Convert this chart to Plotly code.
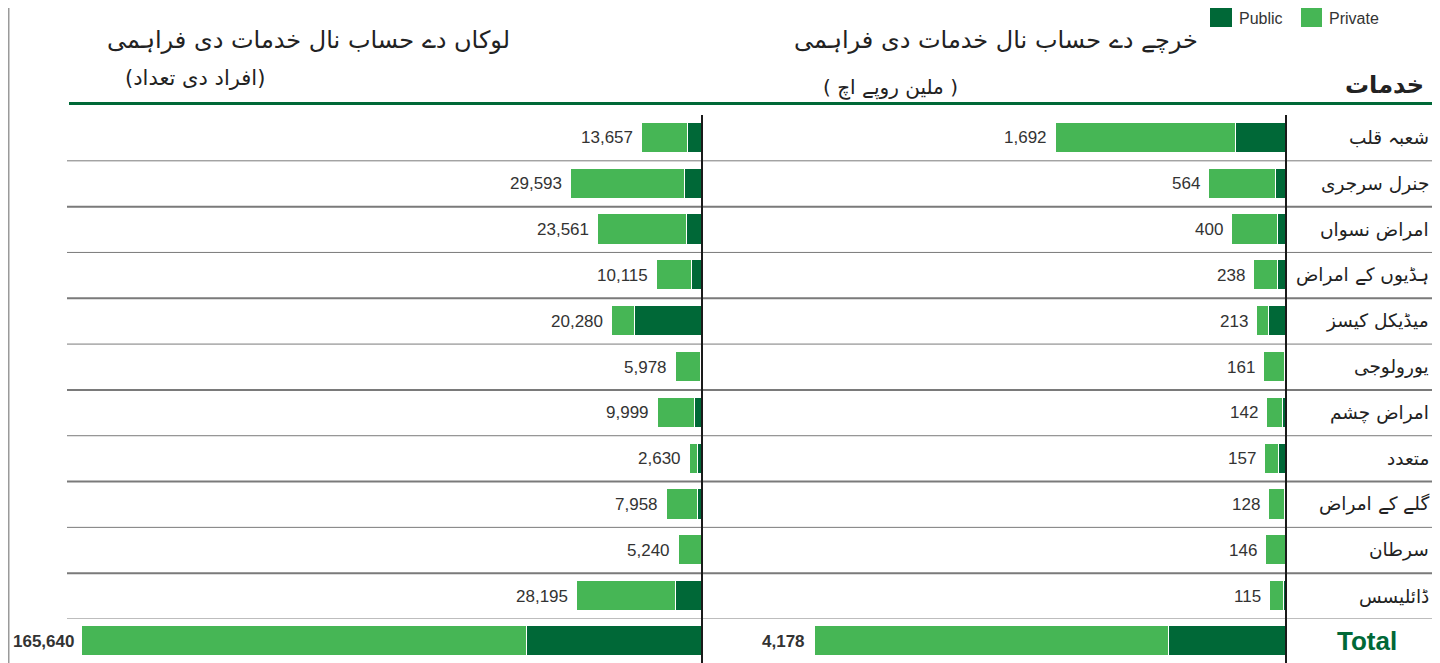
import plotly.graph_objects as go

# ---------------- data ----------------
categories = ["شعبہ قلب", "جنرل سرجری", "امراض نسواں", "ہڈیوں کے امراض", "میڈیکل کیسز",
              "یورولوجی", "امراض چشم", "متعدد", "گلے کے امراض", "سرطان", "ڈائلیسس"]

people_public = [3200, 3770, 3390, 2330, 15200, 150, 1580, 900, 840, 60, 5940]
people_private = [10457, 25823, 20171, 7785, 5080, 5828, 8419, 1730, 7118, 5180, 22255]
people_totals = [13657, 29593, 23561, 10115, 20280, 5978, 9999, 2630, 7958, 5240, 28195]

spend_public = [365, 71, 59, 59, 123, 5, 20, 54, 8, 0, 15]
spend_private = [1327, 493, 341, 179, 90, 156, 122, 103, 120, 146, 100]
spend_totals = [1692, 564, 400, 238, 213, 161, 142, 157, 128, 146, 115]

total_label = ["Total"]
people_total_public = [46750]
people_total_private = [118890]
people_grand_total = [165640]
spend_total_public = [1038]
spend_total_private = [3140]
spend_grand_total = [4178]

series_names = ["Public", "Private"]

title_people = "لوکاں دے حساب نال خدمات دی فراہمی"
subtitle_people = "(افراد دی تعداد)"
title_spend = "خرچے دے حساب نال خدمات دی فراہمی"
subtitle_spend = "( ملین روپے اچ )"
header_services = "خدمات"

# ---------------- style ----------------
# the page body has an 8px margin, so the figure starts at (8, 8) of the window
OFF = 8
W, H = 1440 - OFF, 663 - OFF
C_PUB = "#006837"
C_PRI = "#46b655"
URDU = "DejaVu Sans"
LATIN = "Liberation Sans, Arial, sans-serif"


def px(x):
    return (x - OFF) / W


def py(y):
    return 1 - (y - OFF) / H


fig = go.Figure()

bar_common = dict(orientation="h", width=0.66, marker_line=dict(color="white", width=1),
                  hoverinfo="x+y", showlegend=False)

# main rows
fig.add_bar(x=people_public, y=categories, xaxis="x", yaxis="y", marker_color=C_PUB,
            name=series_names[0], **bar_common)
fig.add_bar(x=people_private, y=categories, xaxis="x", yaxis="y", marker_color=C_PRI,
            name=series_names[1], **bar_common)
fig.add_bar(x=spend_public, y=categories, xaxis="x2", yaxis="y2", marker_color=C_PUB,
            name=series_names[0], **bar_common)
fig.add_bar(x=spend_private, y=categories, xaxis="x2", yaxis="y2", marker_color=C_PRI,
            name=series_names[1], **bar_common)
# total row
fig.add_bar(x=people_total_public, y=total_label, xaxis="x3", yaxis="y3", marker_color=C_PUB,
            name=series_names[0], **bar_common)
fig.add_bar(x=people_total_private, y=total_label, xaxis="x3", yaxis="y3", marker_color=C_PRI,
            name=series_names[1], **bar_common)
fig.add_bar(x=spend_total_public, y=total_label, xaxis="x4", yaxis="y4", marker_color=C_PUB,
            name=series_names[0], **bar_common)
fig.add_bar(x=spend_total_private, y=total_label, xaxis="x4", yaxis="y4", marker_color=C_PRI,
            name=series_names[1], **bar_common)

main_dom = [1 - (619 - OFF) / H, 1 - (115 - OFF) / H]
tot_dom = [0, 1 - (619 - OFF) / H]
left_dom = [px(67), px(702)]
right_dom = [px(708), px(1286)]

hidden = dict(visible=False, showgrid=False, zeroline=False, fixedrange=True)

fig.update_layout(
    width=W, height=H,
    margin=dict(l=0, r=0, t=0, b=0),
    paper_bgcolor="white", plot_bgcolor="rgba(0,0,0,0)",
    barmode="stack", bargap=0,
    showlegend=False,
    xaxis=dict(domain=left_dom, range=[143340, 0], anchor="y", **hidden),
    yaxis=dict(domain=main_dom, range=[10.5, -0.5], anchor="x", **hidden),
    xaxis2=dict(domain=right_dom, range=[4247, 0], anchor="y2", **hidden),
    yaxis2=dict(domain=main_dom, range=[10.5, -0.5], anchor="x2", **hidden),
    xaxis3=dict(domain=left_dom, range=[169650, 0], anchor="y3", **hidden),
    yaxis3=dict(domain=tot_dom, range=[0.5, -0.5], anchor="x3", **hidden),
    xaxis4=dict(domain=right_dom, range=[5127, 0], anchor="y4", **hidden),
    yaxis4=dict(domain=tot_dom, range=[0.5, -0.5], anchor="x4", **hidden),
)

shapes = []
# left grey border
shapes.append(dict(type="line", xref="paper", yref="paper", x0=px(8.5), x1=px(8.5), y0=0, y1=1,
                   line=dict(color="#9a9a9a", width=2)))
# green header rule
shapes.append(dict(type="line", xref="paper", yref="paper", x0=px(69), x1=px(1435),
                   y0=py(103.5), y1=py(103.5), line=dict(color=C_PUB, width=3)))
# row separators
for i in range(len(categories)):
    shapes.append(dict(type="line", xref="paper", yref="y", x0=px(67), x1=px(1435),
                       y0=i + 0.5, y1=i + 0.5,
                       line=dict(color="#7a7a7a", width=2 if i % 2 else 1)))
# vertical baselines
for xv in (702, 1286):
    shapes.append(dict(type="line", xref="paper", yref="paper", x0=px(xv), x1=px(xv),
                       y0=0, y1=py(115), line=dict(color="#1a1a1a", width=2)))
# manual legend swatches
shapes.append(dict(type="rect", xref="paper", yref="paper", x0=px(1210), x1=px(1232),
                   y0=py(27), y1=py(8), fillcolor=C_PUB, line=dict(width=0)))
shapes.append(dict(type="rect", xref="paper", yref="paper", x0=px(1301), x1=px(1322),
                   y0=py(27), y1=py(8), fillcolor=C_PRI, line=dict(width=0)))

ann = []
# value labels
for c, t in zip(categories, people_totals):
    ann.append(dict(x=t, y=c, xref="x", yref="y", text=f"{t:,}", showarrow=False,
                    xanchor="right", xshift=-7, font=dict(family=LATIN, size=17, color="#333")))
for c, t in zip(categories, spend_totals):
    ann.append(dict(x=t, y=c, xref="x2", yref="y2", text=f"{t:,}", showarrow=False,
                    xanchor="right", xshift=-7, font=dict(family=LATIN, size=17, color="#333")))
ann.append(dict(x=people_grand_total[0], y=total_label[0], xref="x3", yref="y3",
                text=f"<b>{people_grand_total[0]:,}</b>", showarrow=False, xanchor="right",
                xshift=-6, font=dict(family=LATIN, size=17, color="#333")))
ann.append(dict(x=spend_grand_total[0], y=total_label[0], xref="x4", yref="y4",
                text=f"<b>{spend_grand_total[0]:,}</b>", showarrow=False, xanchor="right",
                xshift=-8, font=dict(family=LATIN, size=17, color="#333")))
# category labels
for c in categories:
    ann.append(dict(x=px(1431), y=c, xref="paper", yref="y2", text=c, showarrow=False,
                    xanchor="right", font=dict(family=URDU, size=18.5, color="#222")))
ann.append(dict(x=px(1367), y=total_label[0], xref="paper", yref="y4",
                text=f"<b>{total_label[0]}</b>", showarrow=False, xanchor="center",
                font=dict(family=LATIN, size=26, color=C_PUB)))
# headings
ann.append(dict(x=px(512), y=py(40), xref="paper", yref="paper", text=title_people,
                showarrow=False, xanchor="right", yanchor="middle",
                font=dict(family=URDU, size=24, color="#222")))
ann.append(dict(x=px(267), y=py(78), xref="paper", yref="paper", text=subtitle_people,
                showarrow=False, xanchor="right", yanchor="middle",
                font=dict(family=URDU, size=21, color="#222")))
ann.append(dict(x=px(1200), y=py(40), xref="paper", yref="paper", text=title_spend,
                showarrow=False, xanchor="right", yanchor="middle",
                font=dict(family=URDU, size=24, color="#222")))
ann.append(dict(x=px(960), y=py(87), xref="paper", yref="paper", text=subtitle_spend,
                showarrow=False, xanchor="right", yanchor="middle",
                font=dict(family=URDU, size=20, color="#222")))
ann.append(dict(x=px(1426), y=py(85), xref="paper", yref="paper", text=f"<b>{header_services}</b>",
                showarrow=False, xanchor="right", yanchor="middle",
                font=dict(family=URDU, size=24, color="#222")))
# legend texts
ann.append(dict(x=px(1237), y=py(18), xref="paper", yref="paper", text=series_names[0],
                showarrow=False, xanchor="left", yanchor="middle",
                font=dict(family=LATIN, size=16, color="#333")))
ann.append(dict(x=px(1327), y=py(18), xref="paper", yref="paper", text=series_names[1],
                showarrow=False, xanchor="left", yanchor="middle",
                font=dict(family=LATIN, size=16, color="#333")))

fig.update_layout(shapes=shapes, annotations=ann)

fig.write_html("out.html")
